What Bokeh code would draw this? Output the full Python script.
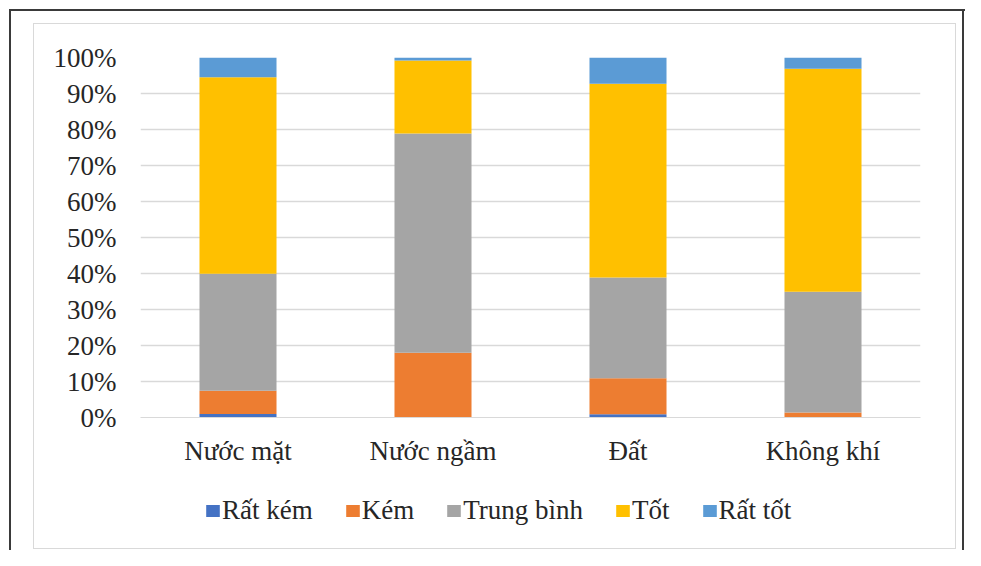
from bokeh.plotting import figure
from bokeh.layouts import column
from bokeh.models import (FixedTicker, Legend, LegendItem,
                          FactorRange, Range1d, ColumnDataSource)
from bokeh.embed import file_html
from bokeh.resources import INLINE

# ---- data (percent of samples) ----
categories = ["Nước mặt", "Nước ngầm", "Đất", "Không khí"]
series_names = ["Rất kém", "Kém", "Trung bình", "Tốt", "Rất tốt"]
rat_kem = [1.0, 0.0, 0.9, 0.0]
kem = [6.4, 18.0, 10.0, 1.4]
trung_binh = [32.5, 60.9, 28.0, 33.5]
tot = [54.6, 20.3, 53.8, 62.0]
rat_tot = [5.5, 0.8, 7.3, 3.1]
y_ticks = [0, 10, 20, 30, 40, 50, 60, 70, 80, 90, 100]
y_tick_labels = ["0%", "10%", "20%", "30%", "40%", "50%", "60%", "70%", "80%", "90%", "100%"]
colors = ["#4472C4", "#ED7D31", "#A5A5A5", "#FFC000", "#5B9BD5"]

keys = ["rat_kem", "kem", "trung_binh", "tot", "rat_tot"]
source = ColumnDataSource(dict(cat=categories, rat_kem=rat_kem, kem=kem,
                               trung_binh=trung_binh, tot=tot, rat_tot=rat_tot))

FONT = "Liberation Serif"
TEXT = "#262626"
BLACK = "#3a3a3a"
GRAY = "#d9d9d9"

# chart-area frames drawn as the page element's background (canvases are transparent)
frame_bg = ", ".join([
    f"linear-gradient({BLACK},{BLACK}) 9px 9px / 2px 600px no-repeat",
    f"linear-gradient({BLACK},{BLACK}) 9px 9px / 960px 2px no-repeat",
    f"linear-gradient({BLACK},{BLACK}) 962px 9px / 2px 600px no-repeat",
    f"linear-gradient({GRAY},{GRAY}) 33px 23px / 1px 526px no-repeat",
    f"linear-gradient({GRAY},{GRAY}) 33px 23px / 923px 1px no-repeat",
    f"linear-gradient({GRAY},{GRAY}) 955px 23px / 1px 526px no-repeat",
    f"linear-gradient({GRAY},{GRAY}) 33px 548px / 923px 1px no-repeat",
    "white",
])

# ---- main chart ----
p = figure(width=965, height=480, output_backend="svg", toolbar_location=None,
           x_range=FactorRange(*categories, range_padding=0),
           y_range=Range1d(0, 100))
p.min_border_left = 140
p.min_border_right = 45
p.min_border_top = 57
p.min_border_bottom = 63
p.outline_line_color = None
p.background_fill_color = "white"
p.border_fill_alpha = 0

renderers = p.vbar_stack(keys, x="cat", width=0.395, color=colors, source=source,
                         line_color=None)

p.yaxis.ticker = FixedTicker(ticks=y_ticks)
p.yaxis.major_label_overrides = {t: l for t, l in zip(y_ticks, y_tick_labels)}
p.yaxis.axis_line_color = None
p.yaxis.major_tick_line_color = None
p.yaxis.minor_tick_line_color = None
p.yaxis.major_label_standoff = 18
p.yaxis.major_label_text_font = FONT
p.yaxis.major_label_text_font_size = "27px"
p.yaxis.major_label_text_color = TEXT

p.xaxis.axis_line_color = GRAY
p.xaxis.major_tick_line_color = None
p.xaxis.minor_tick_line_color = None
p.xaxis.major_label_standoff = 12
p.xaxis.major_label_text_font = FONT
p.xaxis.major_label_text_font_size = "27px"
p.xaxis.major_label_text_color = TEXT

p.xgrid.grid_line_color = None
p.ygrid.ticker = FixedTicker(ticks=y_ticks)
p.ygrid.grid_line_color = GRAY
p.ygrid.grid_line_width = 1.5

# ---- legend strip (same frame columns as the chart) ----
lg = figure(width=965, height=70, output_backend="svg", toolbar_location=None,
            x_axis_type=None, y_axis_type=None,
            x_range=Range1d(0, 1), y_range=Range1d(0, 1))
lg.min_border_left = 140
lg.min_border_right = 45
lg.min_border_top = 0
lg.min_border_bottom = 0
lg.outline_line_color = None
lg.background_fill_alpha = 0
lg.border_fill_alpha = 0
# invisible proxies (zero-height bars outside the visible range) that carry the legend swatches
proxy = ColumnDataSource(dict(x=[-5.0], top=[-5.0], bottom=[-5.0]))
leg_renderers = [lg.vbar(x="x", top="top", bottom="bottom", width=0.1, color=c,
                         line_color=None, source=proxy) for c in colors]

legend = Legend(items=[LegendItem(label=n, renderers=[r]) for n, r in zip(series_names, leg_renderers)],
                orientation="horizontal", location=(64, 24),
                glyph_width=17, glyph_height=15, label_standoff=1, spacing=31,
                padding=0, margin=0, border_line_color=None, background_fill_alpha=0,
                label_text_font=FONT, label_text_font_size="27px", label_text_color=TEXT,
                label_height=20)
lg.add_layout(legend, "center")

page = column(p, lg, spacing=0, styles={"background": frame_bg})

open("out.html", "w").write(file_html(page, INLINE))
